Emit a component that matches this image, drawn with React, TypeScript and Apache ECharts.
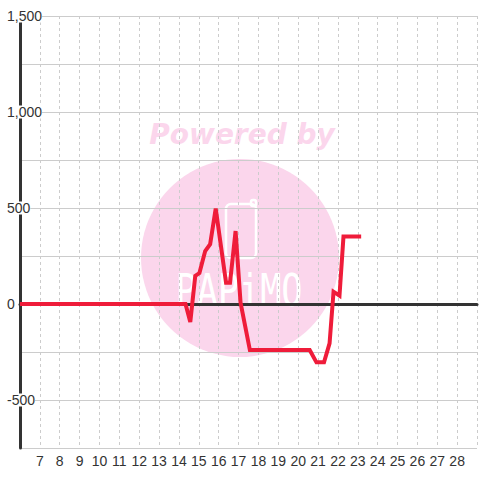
import React, { useEffect, useRef } from "react";
import * as echarts from "echarts";

// hour of day (x) and value (y)
const hours = [6, 14.33, 14.57, 14.82, 15.03, 15.32, 15.57, 15.85, 16.37, 16.57, 16.85, 17.1, 17.57, 20.58, 20.92, 21.3, 21.58, 21.78, 22.08, 22.28, 23.17];
const values = [0, 0, -94, 146, 161, 276, 312, 497, 111, 111, 380, 7, -240, -240, -304, -304, -205, 64, 43, 351, 351];
const xTickLabels = ["7", "8", "9", "10", "11", "12", "13", "14", "15", "16", "17", "18", "19", "20", "21", "22", "23", "24", "25", "26", "27", "28"];
const yTickLabels = ["1,500", "1,000", "500", "0", "-500"];

const FONT = "'Liberation Sans', Arial, sans-serif";

export default function App() {
  const ref = useRef<HTMLDivElement>(null);
  useEffect(() => {
    if (!ref.current) return;
    const chart = echarts.init(ref.current, undefined, { renderer: "svg" });
    const data = hours.map((h, i) => [h, values[i]]);
    chart.setOption({
      animation: false,
      backgroundColor: "#ffffff",
      grid: { left: 20, right: 0, top: 16, bottom: 32, containLabel: false },
      graphic: [
        {
          type: "circle",
          shape: { cx: 240, cy: 258, r: 99 },
          style: { fill: "#fbd6ec" },
          z: -10,
          silent: true,
        },
        {
          type: "text",
          x: 242,
          y: 134,
          style: {
            text: "Powered by",
            fill: "#fbd6ec",
            font: "italic bold 28px 'DejaVu Sans', sans-serif",
            align: "center",
            verticalAlign: "middle",
          },
          z: -10,
          silent: true,
        },
        {
          type: "rect",
          shape: { x: 226, y: 204, width: 30, height: 54, r: 5 },
          style: { fill: "none", stroke: "#ffffff", lineWidth: 2.5 },
          z: -9,
          silent: true,
        },
        {
          type: "rect",
          shape: { x: 251, y: 200, width: 5, height: 6, r: 2 },
          style: { fill: "none", stroke: "#ffffff", lineWidth: 2.5 },
          z: -9,
          silent: true,
        },
        {
          type: "text",
          x: 239,
          y: 291,
          scaleX: 0.8,
          originX: 0,
          originY: 0,
          style: {
            text: "PAPiMO",
            fill: "#ffffff",
            font: "44px 'DejaVu Sans Mono', monospace",
            align: "center",
            verticalAlign: "middle",
          },
          z: -9,
          silent: true,
        },
      ],
      xAxis: [
        {
          type: "value",
          min: 6,
          max: 29,
          interval: 1,
          position: "bottom",
          axisLine: { show: true, onZero: true, lineStyle: { color: "#333333", width: 3 } },
          axisTick: { show: false },
          axisLabel: { show: false },
          splitLine: { show: true, lineStyle: { color: "#cccccc", width: 1, type: [3, 3] } },
        },
        {
          type: "value",
          min: 6,
          max: 29,
          interval: 1,
          position: "bottom",
          axisLine: { show: false, onZero: false },
          axisTick: { show: false },
          splitLine: { show: false },
          axisLabel: {
            show: true,
            margin: 6,
            fontSize: 14,
            fontFamily: FONT,
            color: "#333333",
            formatter: (v: number) => {
              const s = String(Math.round(v));
              return xTickLabels.includes(s) ? s : "";
            },
          },
        },
      ],
      yAxis: {
        type: "value",
        min: -750,
        max: 1500,
        interval: 250,
        axisLine: { show: true, lineStyle: { color: "#333333", width: 3 } },
        axisTick: { show: false },
        splitLine: { show: true, lineStyle: { color: "#cccccc", width: 1 } },
        axisLabel: {
          show: true,
          align: "left",
          margin: 13,
          fontSize: 14,
          fontFamily: FONT,
          color: "#333333",
          backgroundColor: "#ffffff",
          lineHeight: 13,
          formatter: (v: number) => {
            const s = Math.round(v).toLocaleString("en-US");
            return yTickLabels.includes(s) ? s : "";
          },
        },
      },
      series: [
        {
          type: "line",
          xAxisIndex: 0,
          data,
          showSymbol: false,
          symbol: "none",
          lineStyle: { color: "#ef1c3a", width: 4, join: "miter" },
          itemStyle: { color: "#ef1c3a" },
          z: 5,
        },
      ],
    });
    return () => chart.dispose();
  }, []);
  return <div ref={ref} style={{ width: 480, height: 480, position: "absolute", left: 0, top: 0 }} />;
}
